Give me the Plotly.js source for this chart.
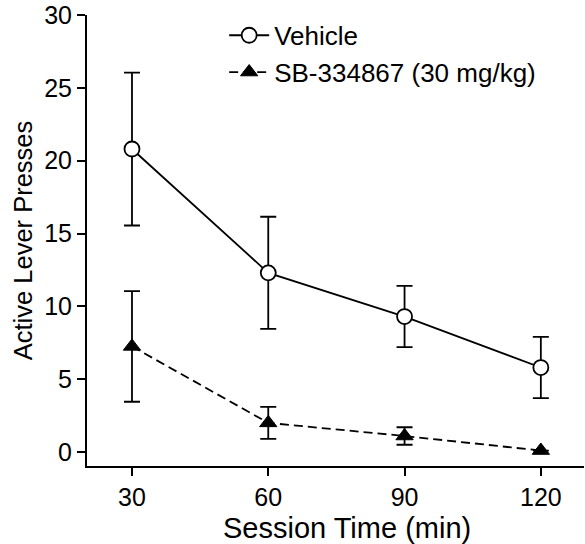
<!DOCTYPE html>
<html><head><meta charset="utf-8">
<script src="https://cdn.plot.ly/plotly-3.0.1.min.js"></script>
<style>html,body{margin:0;padding:0;background:#fff}#chart{width:585px;height:544px}</style>
</head><body><div id="chart"></div>
<script>
const sessionTime = [30, 60, 90, 120];
const vehicleMean = [20.8, 12.3, 9.3, 5.8];
const vehicleSem = [5.25, 3.85, 2.1, 2.1];
const sbMean = [7.25, 2.0, 1.1, 0.1];
const sbSem = [3.8, 1.1, 0.6, 0];
const seriesNames = ['Vehicle', 'SB-334867 (30 mg/kg)'];
const xTicks = [30, 60, 90, 120];
const yTicks = [0, 5, 10, 15, 20, 25, 30];
const xTitle = 'Session Time (min)';
const yTitle = 'Active Lever Presses';

const font = 'Liberation Sans, Arial, sans-serif';
const traces = [
  {x: sessionTime, y: vehicleMean, name: seriesNames[0], type: 'scatter', mode: 'lines+markers',
   line: {color: '#000', width: 1.8},
   marker: {symbol: 'circle', size: 15, color: '#fff', line: {color: '#000', width: 1.8}},
   error_y: {type: 'data', array: vehicleSem, visible: true, color: '#000', thickness: 1.8, width: 8}},
  {x: sessionTime, y: sbMean, name: seriesNames[1], type: 'scatter', mode: 'lines+markers',
   line: {color: '#000', width: 1.8, dash: '9px,5px'},
   marker: {symbol: 'triangle-up', size: 15, color: '#000', line: {color: '#000', width: 1}},
   error_y: {type: 'data', array: sbSem, visible: true, color: '#000', thickness: 1.8, width: 8}}
];
const layout = {
  width: 585, height: 544,
  margin: {l: 87, r: 1, t: 15, b: 78},
  paper_bgcolor: '#fff', plot_bgcolor: '#fff',
  font: {family: font, color: '#000', size: 25},
  showlegend: true,
  legend: {x: 0.276, y: 1.007, xanchor: 'left', yanchor: 'top', bgcolor: 'rgba(0,0,0,0)',
           font: {family: font, size: 26, color: '#000'}, tracegroupgap: 0, itemwidth: 40},
  xaxis: {range: [20.1, 129.5], tickvals: xTicks, ticktext: xTicks.map(String),
          showline: true, linecolor: '#000', linewidth: 2, showgrid: false, zeroline: false,
          ticks: 'outside', ticklen: 8, tickwidth: 2, tickcolor: '#000',
          tickfont: {family: font, size: 25, color: '#000'}},
  yaxis: {range: [-0.96, 30], tickvals: yTicks, ticktext: yTicks.map(String),
          showline: true, linecolor: '#000', linewidth: 2, showgrid: false, zeroline: false,
          ticks: 'outside', ticklen: 8, tickwidth: 2, tickcolor: '#000',
          tickfont: {family: font, size: 25, color: '#000'},
          title: {text: yTitle, font: {family: font, size: 25.5, color: '#000'}, standoff: 4}},
  annotations: [
    {text: xTitle, xref: 'paper', yref: 'paper', x: 0.523, y: -0.1375, xanchor: 'center', yanchor: 'middle',
     showarrow: false, font: {family: font, size: 29, color: '#000'}}
  ]
};
Plotly.newPlot('chart', traces, layout, {displayModeBar: false, staticPlot: true});
</script></body></html>
